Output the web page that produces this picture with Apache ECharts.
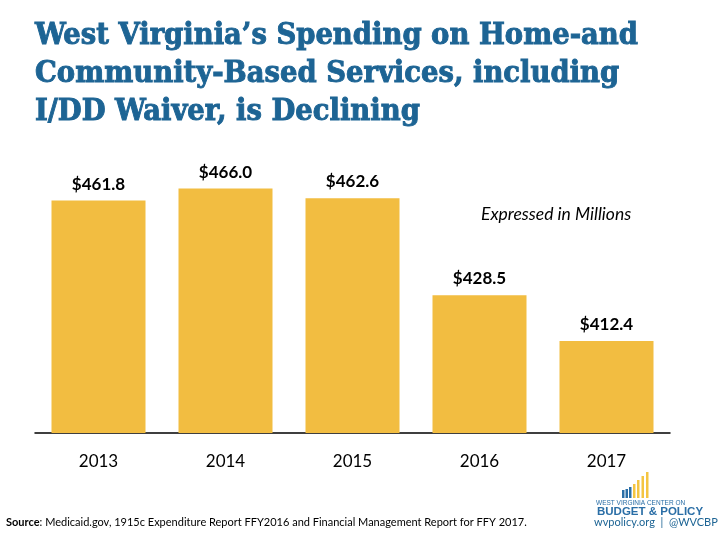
<!DOCTYPE html>
<html><head><meta charset="utf-8">
<script src="https://cdn.jsdelivr.net/npm/echarts@6/dist/echarts.min.js"></script>
<style>html,body{margin:0;padding:0;background:#fff}#c{width:720px;height:540px}</style>
</head><body><div id="c"></div>
<script>
const years = ['2013','2014','2015','2016','2017'];
const spending = [461.8, 466.0, 462.6, 428.5, 412.4];
const titleLines = ['West Virginia\u2019s Spending on Home-and','Community-Based Services, including','I/DD Waiver, is Declining'];

const chart = echarts.init(document.getElementById('c'));
const blue = '#1d6494';
chart.setOption({
  animation:false,
  backgroundColor:'#fff',
  title:{
    text: titleLines.join('\n'),
    left: 30, top: 12,
    textStyle:{fontFamily:'DejaVu Serif Condensed, DejaVu Serif', fontWeight:'bold', fontSize:30.5, lineHeight:38, color:blue,
      textBorderColor:blue, textBorderWidth:0.9}
  },
  grid:{left:35, width:635, top:92, height:341},
  xAxis:{
    type:'category', data:years,
    axisTick:{show:false},
    axisLine:{lineStyle:{color:'#000', width:1.5}},
    axisLabel:{margin:20, fontFamily:'Lato, Open Sans', fontSize:17, color:'#000'}
  },
  yAxis:{type:'value', min:380, max:500, show:false, splitLine:{show:false}},
  series:[{
    type:'bar', data:spending, barWidth:94,
    itemStyle:{color:'#f2bd41'},
    label:{show:true, position:'top', distance:8, formatter:p=>'$'+p.value.toFixed(1),
      fontFamily:'Lato, Open Sans', fontWeight:'bold', fontSize:17, color:'#000'}
  }],
  graphic:[
    {type:'text', left:481, top:205, style:{text:'Expressed in Millions', font:'italic 17.5px Lato, Open Sans', fill:'#000'}},
    {type:'text', left:6, top:517, style:{rich:{b:{fontWeight:'bold', fontSize:11, fontFamily:'Lato, Open Sans', fill:'#000'}, n:{fontSize:11, fontFamily:'Lato, Open Sans', fill:'#000'}}, text:'{b|Source}{n|: Medicaid.gov, 1915c Expenditure Report FFY2016 and Financial Management Report for FFY 2017.}'}},
    {type:'rect', shape:{x:622,y:490,width:2.5,height:8}, style:{fill:'#2a6ea6'}},
    {type:'rect', shape:{x:625.5,y:489,width:2.5,height:9}, style:{fill:'#2a6ea6'}},
    {type:'rect', shape:{x:629,y:487,width:2.5,height:11}, style:{fill:'#2a6ea6'}},
    {type:'rect', shape:{x:633,y:484,width:2.5,height:14}, style:{fill:'#f4c542'}},
    {type:'rect', shape:{x:637,y:480,width:2.5,height:18}, style:{fill:'#f4c542'}},
    {type:'rect', shape:{x:641.5,y:476,width:2.5,height:22}, style:{fill:'#f4c542'}},
    {type:'rect', shape:{x:646,y:472,width:2.5,height:26}, style:{fill:'#f4c542'}},
    {type:'text', left:596, top:500, style:{text:'WEST VIRGINIA CENTER ON', font:'6.5px Liberation Sans', fill:'#2a6ea6'}},
    {type:'text', left:597, top:506, style:{text:'BUDGET & POLICY', font:'bold 11.5px Liberation Sans', fill:'#2a6ea6'}},
    {type:'text', left:594, top:517, style:{text:'wvpolicy.org  |  @WVCBP', font:'11px Lato, Open Sans', fill:'#1d6494'}}
  ]
});
</script></body></html>
